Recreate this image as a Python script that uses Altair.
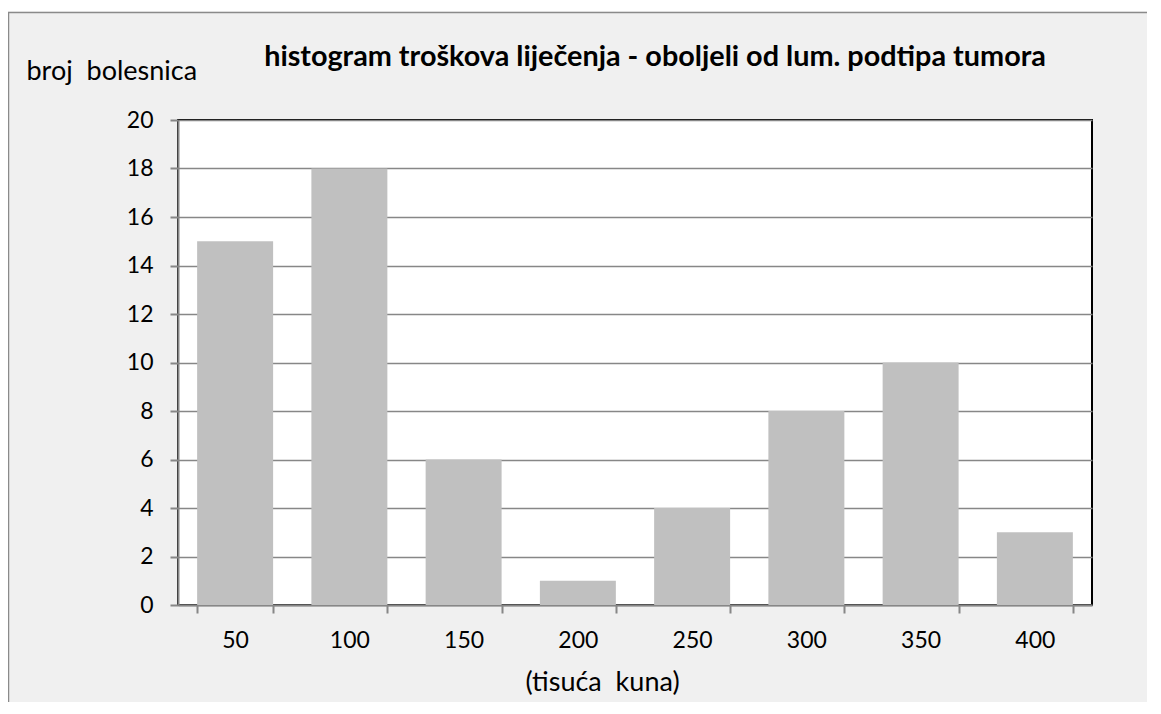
import altair as alt
import pandas as pd

categories = ["50", "100", "150", "200", "250", "300", "350", "400"]
counts = [15, 18, 6, 1, 4, 8, 10, 3]
y_ticks = [0, 2, 4, 6, 8, 10, 12, 14, 16, 18, 20]

title_text = "histogram troškova liječenja - oboljeli od lum. podtipa tumora"
y_title = "broj\u00a0 bolesnica"
x_title = "(tisuća\u00a0 kuna)"

df = pd.DataFrame({"cat": categories, "n": counts})

FONT = "Lato"
W, H = 914, 485
GRID = "#878787"

bars = alt.Chart(df).mark_bar(color="#c0c0c0").encode(
    x=alt.X("cat:N", sort=categories,
            scale=alt.Scale(paddingInner=0.335, paddingOuter=0.1675),
            axis=alt.Axis(title=x_title, labelAngle=0, labelFontSize=23, labelFont=FONT,
                          labelColor="black", labelPadding=16,
                          tickBand="extent", tickSize=8, tickColor=GRID, tickWidth=2,
                          domainColor=GRID, domainWidth=2, grid=False,
                          titleFont=FONT, titleFontSize=27, titleFontWeight="normal",
                          titleColor="black", titleX=424, titleY=85,
                          titleAlign="center", titleBaseline="alphabetic")),
    y=alt.Y("n:Q", scale=alt.Scale(domain=[0, 20], nice=False),
            axis=alt.Axis(values=y_ticks, title=y_title, labelFontSize=23, labelFont=FONT,
                          labelColor="black", labelPadding=17,
                          tickSize=8, tickColor=GRID, tickWidth=2,
                          domainColor=GRID, domainWidth=2,
                          gridColor=GRID, gridWidth=1.5,
                          titleFont=FONT, titleFontSize=27, titleFontWeight="normal",
                          titleColor="black", titleAngle=0, titleX=-152, titleY=-41,
                          titleAlign="left", titleBaseline="alphabetic")),
)

one = alt.Data(values=[{"a": 1}])
frame_left = alt.Chart(one).mark_rule(color="#8a8a8a", strokeWidth=1.5).encode(
    x=alt.value(-169.5), y=alt.value(-108), y2=alt.value(H + 120))
frame_top = alt.Chart(one).mark_rule(color="#8a8a8a", strokeWidth=1.5).encode(
    y=alt.value(-107.5), x=alt.value(-170), x2=alt.value(W + 100))
top_strip = alt.Chart(one).mark_rect(color="white").encode(
    x=alt.value(-172), x2=alt.value(W + 100), y=alt.value(-114), y2=alt.value(-108.5))
title_mark = alt.Chart(one).mark_text(
    font=FONT, fontSize=28.8, fontWeight="bold", color="black",
    align="center", baseline="alphabetic").encode(
    x=alt.value(477), y=alt.value(-54), text=alt.value(title_text))

chart = alt.layer(top_strip, frame_left, frame_top, title_mark, bars).properties(
    width=W, height=H,
    background="#f0f0f0",
    autosize=alt.AutoSizeParams(type="none"),
    padding={"left": 170, "top": 112, "right": 55, "bottom": 97},
).configure_view(fill="white", stroke="black", strokeWidth=2)

chart.save("out.html", embed_options={"renderer": "svg", "actions": False})
